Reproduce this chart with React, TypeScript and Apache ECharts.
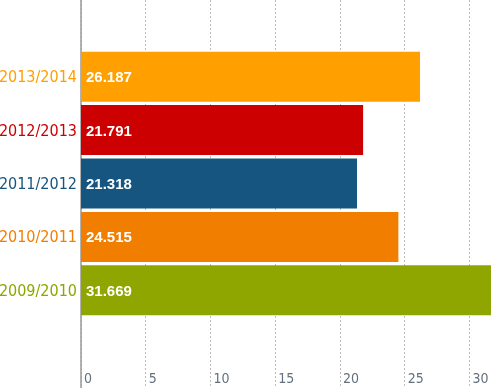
import React, { useEffect, useRef } from "react";
import * as echarts from "echarts";

const categories = ["2009/2010", "2010/2011", "2011/2012", "2012/2013", "2013/2014"];
const values = [31.669, 24.515, 21.318, 21.791, 26.187];
const colors = ["#8FA600", "#F27E00", "#15557F", "#CC0000", "#FF9F00"];
const xTicks = [0, 5, 10, 15, 20, 25, 30];

const FONT = '"DejaVu Sans Condensed", "Liberation Sans", sans-serif';
const BOLD_FONT = '"Liberation Sans", Arial, sans-serif';

export default function App() {
  const ref = useRef<HTMLDivElement>(null);
  useEffect(() => {
    document.body.style.margin = "0";
    const chart = echarts.init(ref.current!, null, { renderer: "svg" });
    const xMax = Math.max(...values);
    chart.setOption({
      animation: false,
      grid: [
        { left: 81, right: 0, top: 0, bottom: 0, containLabel: false, outerBoundsMode: "none" },
        { left: 81, right: 0, top: 50, bottom: 71, containLabel: false, outerBoundsMode: "none" },
      ],
      xAxis: [
        {
          gridIndex: 0,
          type: "value",
          min: xTicks[0],
          max: xMax,
          interval: xTicks[1] - xTicks[0],
          axisLine: { show: false },
          axisTick: { show: false },
          splitLine: { show: true, lineStyle: { color: "#bbbbbb", type: [2, 2], width: 1 } },
          axisLabel: {
            inside: true,
            showMaxLabel: false,
            align: "left",
            verticalAlign: "bottom",
            margin: 3,
            padding: [0, 0, 0, 3],
            color: "#66707c",
            fontSize: 14,
            fontFamily: FONT,
          },
        },
        {
          gridIndex: 1,
          type: "value",
          min: 0,
          max: xMax,
          show: false,
        },
      ],
      yAxis: [
        {
          gridIndex: 0,
          type: "value",
          axisLine: { show: true, lineStyle: { color: "#999999", width: 1.5 } },
          axisTick: { show: false },
          axisLabel: { show: false },
          splitLine: { show: false },
        },
        {
          gridIndex: 1,
          type: "category",
          data: categories,
          axisLine: { show: false },
          axisTick: { show: false },
          splitLine: { show: false },
          axisLabel: {
            margin: 4,
            fontSize: 16,
            fontFamily: FONT,
            color: (_v: any, i: number) => colors[i],
          },
        },
      ],
      series: [
        {
          type: "bar",
          xAxisIndex: 1,
          yAxisIndex: 1,
          barWidth: 50,
          data: values.map((v, i) => ({ value: v, itemStyle: { color: colors[i] } })),
          label: {
            show: true,
            position: "insideLeft",
            distance: 5,
            color: "#ffffff",
            fontSize: 15,
            fontWeight: "bold",
            fontFamily: BOLD_FONT,
            formatter: (p: any) => Number(p.value).toFixed(3),
          },
        },
      ],
    });
    return () => chart.dispose();
  }, []);
  return <div ref={ref} style={{ position: "fixed", left: 0, top: 0, width: 491, height: 388 }} />;
}
